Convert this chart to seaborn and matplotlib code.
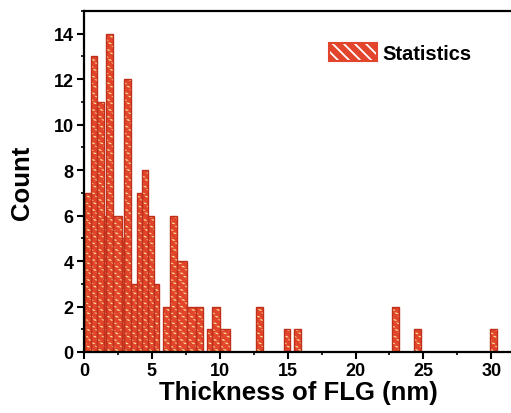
import numpy as np
import matplotlib.pyplot as plt
import seaborn as sns
from matplotlib.patches import Patch
from matplotlib.ticker import MultipleLocator

sns.set_theme(style="ticks", rc={"axes.edgecolor": "black", "xtick.color": "black",
                                 "ytick.color": "black", "text.color": "black",
                                 "axes.labelcolor": "black"})
plt.rcParams['font.family'] = ['Liberation Sans', 'DejaVu Sans']
plt.rcParams['font.weight'] = 'bold'
plt.rcParams['hatch.linewidth'] = 1.3

# bin edges of the thickness histogram (nm)
edges = [0.09, 0.53, 0.94, 1.44, 1.61, 2.17, 2.79, 2.91, 3.48, 3.87, 4.26, 4.72,
         5.17, 5.56, 5.81, 6.30, 6.84, 7.58, 8.27, 8.75, 9.05, 9.42, 9.99, 10.72,
         12.66, 13.16, 14.70, 15.20, 15.50, 16.00, 22.68, 23.17, 24.30, 24.80,
         29.90, 30.40]
counts = [7, 13, 11, 6, 14, 6, 5, 12, 3, 7, 8, 6,
          3, 0, 2, 6, 4, 2, 2, 0, 1, 2, 1,
          0, 2, 0, 1, 0, 1, 0, 2, 0, 1, 0, 1]
centers = [(a + b) / 2 for a, b in zip(edges[:-1], edges[1:])]

red = "#e2452b"
dark_red = "#bf301c"
dots = "#f7dc92"

fig = plt.figure(figsize=(5.11, 4.14), dpi=100)
ax = fig.add_axes([84 / 511, 61 / 414, 429 / 511, 341 / 414])

# filled bars with pale diagonal hatch
sns.histplot(x=centers, weights=counts, bins=edges, color=red, alpha=1,
             edgecolor=dots, linewidth=0, hatch="\\\\\\\\", ax=ax)
# red horizontal hatch chops the stripes into short dashes
sns.histplot(x=centers, weights=counts, bins=edges, fill=False, color=red,
             linewidth=0, hatch="-----", ax=ax)
# bar outlines
sns.histplot(x=centers, weights=counts, bins=edges, fill=False,
             color=dark_red, linewidth=1.0, ax=ax)

ax.set_xlim(0, 31.6)
ax.set_ylim(0, 15)
ax.set_xticks(range(0, 31, 5))
ax.set_yticks(range(0, 15, 2))
ax.xaxis.set_minor_locator(MultipleLocator(2.5))
ax.yaxis.set_minor_locator(MultipleLocator(1))
ax.tick_params(which='major', direction='out', length=5, width=1.5,
               labelsize=13, pad=2.5)
ax.tick_params(which='minor', direction='out', length=2.5, width=1.2)
for s in ax.spines.values():
    s.set_linewidth(1.6)

ax.set_xlabel("Thickness of FLG (nm)", fontsize=18.5, fontweight='bold')
ax.set_ylabel("Count", fontsize=18.5, fontweight='bold')
ax.xaxis.set_label_coords(0.5, -28 / 341)
ax.yaxis.set_label_coords(-50 / 429, 0.5)

h_fill = Patch(facecolor=red, edgecolor="white", hatch="\\\\\\", linewidth=0)
h_edge = Patch(facecolor="none", edgecolor=red, linewidth=1.5)
ax.legend([(h_fill, h_edge)], ["Statistics"], loc="center left",
          bbox_to_anchor=(329 / 511, 1 - 54 / 414), bbox_transform=fig.transFigure,
          frameon=False, borderpad=0, borderaxespad=0, handlelength=2.4,
          handleheight=0.95, handletextpad=0.25,
          prop={'size': 14.5, 'weight': 'bold'})

plt.savefig("out.png", dpi=100)
